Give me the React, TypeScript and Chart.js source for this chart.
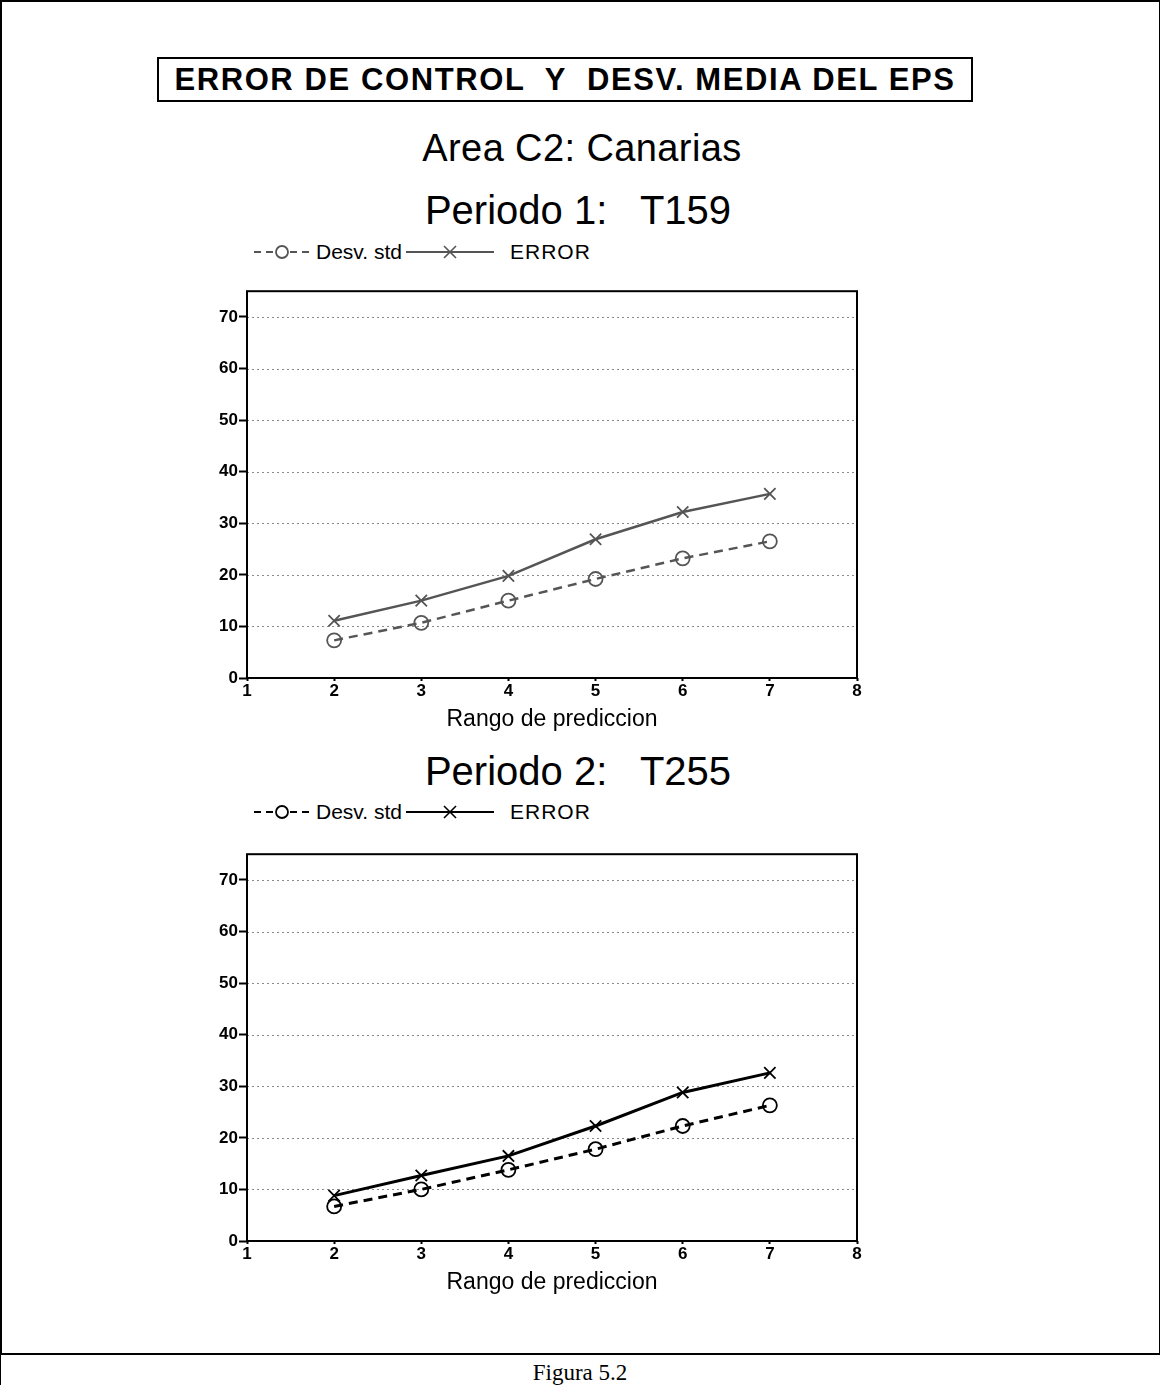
import React, { useEffect, useRef } from "react";
import { Chart, registerables } from "chart.js";

Chart.register(...registerables);

const xValues = [2, 3, 4, 5, 6, 7];
const yTickValues = [0, 10, 20, 30, 40, 50, 60, 70];

const p1DesvStd = [7.3, 10.7, 15.0, 19.2, 23.2, 26.5];
const p1Error = [11.1, 15.0, 19.8, 26.9, 32.2, 35.7];

const p2DesvStd = [6.7, 10.0, 13.8, 17.8, 22.3, 26.3];
const p2Error = [8.8, 12.7, 16.5, 22.3, 28.8, 32.6];

const mainTitle = "ERROR DE CONTROL  Y  DESV. MEDIA DEL EPS";
const areaTitle = "Area C2: Canarias";
const period1Title = "Periodo 1:   T159";
const period2Title = "Periodo 2:   T255";
const seriesNames = ["Desv. std", "ERROR"];
const xAxisTitle = "Rango de prediccion";
const caption = "Figura 5.2";

const FONT = "'Liberation Sans', Arial, sans-serif";

const framePlugin = {
  id: "framePlugin",
  beforeDatasetsDraw(chart: any) {
    const { ctx, chartArea, scales } = chart;
    const y = scales.y;
    ctx.save();
    ctx.strokeStyle = "#8a8a8a";
    ctx.lineWidth = 1;
    ctx.setLineDash([2, 3]);
    yTickValues.forEach((v) => {
      if (v === 0) return;
      const py = Math.round(y.getPixelForValue(v)) + 0.5;
      ctx.beginPath();
      ctx.moveTo(chartArea.left, py);
      ctx.lineTo(chartArea.right, py);
      ctx.stroke();
    });
    ctx.restore();
  },
  afterDatasetsDraw(chart: any) {
    const { ctx, chartArea } = chart;
    ctx.save();
    ctx.strokeStyle = "#000";
    ctx.lineWidth = 2;
    ctx.setLineDash([]);
    ctx.strokeRect(chartArea.left, chartArea.top, chartArea.right - chartArea.left, chartArea.bottom - chartArea.top);
    ctx.restore();
  },
};

function LineChart({ desv, err, color, width }: { desv: number[]; err: number[]; color: string; width: number }) {
  const ref = useRef<HTMLCanvasElement | null>(null);
  useEffect(() => {
    if (!ref.current) return;
    const chart = new Chart(ref.current, {
      type: "line",
      data: {
        datasets: [
          {
            label: seriesNames[0],
            data: xValues.map((x, i) => ({ x, y: desv[i] })),
            borderColor: color,
            borderWidth: width,
            borderDash: [9, 6],
            pointStyle: "circle",
            pointRadius: 7,
            pointBorderWidth: 1.8,
            pointBorderColor: color,
            pointBackgroundColor: "rgba(255,255,255,0)",
            fill: false,
            tension: 0,
          },
          {
            label: seriesNames[1],
            data: xValues.map((x, i) => ({ x, y: err[i] })),
            borderColor: color,
            borderWidth: width,
            pointStyle: "crossRot",
            pointRadius: 8,
            pointBorderWidth: 1.8,
            pointBorderColor: color,
            fill: false,
            tension: 0,
          },
        ],
      },
      options: {
        animation: false,
        responsive: false,
        maintainAspectRatio: false,
        layout: { padding: { top: 7, right: 10, left: 0, bottom: 0 } },
        plugins: { legend: { display: false }, tooltip: { enabled: false }, title: { display: false } },
        scales: {
          x: {
            type: "linear",
            min: 1,
            max: 8,
            ticks: { stepSize: 1, color: "#000", font: { family: FONT, size: 17, weight: "bold" }, padding: 0 },
            grid: { display: true, drawOnChartArea: false, drawTicks: true, tickLength: 3, tickColor: "#000", tickWidth: 2 },
            border: { display: false },
            title: { display: true, text: xAxisTitle, color: "#000", font: { family: FONT, size: 23 }, padding: { top: 0, bottom: 2 } },
            afterFit(scale: any) {
              scale.height = 57;
            },
          },
          y: {
            type: "linear",
            min: 0,
            max: 75,
            afterBuildTicks(scale: any) {
              scale.ticks = yTickValues.map((v) => ({ value: v }));
            },
            ticks: { color: "#000", font: { family: FONT, size: 17, weight: "bold" }, padding: 1 },
            grid: { display: true, drawOnChartArea: false, drawTicks: true, tickLength: 8, tickColor: "#000", tickWidth: 2 },
            border: { display: false },
            afterFit(scale: any) {
              scale.width = 47;
            },
          },
        },
      },
      plugins: [framePlugin],
    } as any);
    return () => chart.destroy();
  }, [desv, err, color, width]);
  return <canvas ref={ref} width={667} height={455} style={{ width: 667, height: 455, display: "block" }} />;
}

function Legend({ top, color }: { top: number; color: string }) {
  return (
    <div style={{ position: "absolute", left: 252, top, height: 26, display: "flex", alignItems: "center", fontFamily: FONT, fontSize: 21, color: "#000", whiteSpace: "pre" }}>
      <svg width={60} height={20} style={{ display: "block" }}>
        <line x1={2} y1={10} x2={58} y2={10} stroke={color} strokeWidth={2} strokeDasharray="7 5" />
        <circle cx={30} cy={10} r={6} fill="white" stroke={color} strokeWidth={1.8} />
      </svg>
      <span style={{ marginLeft: 4 }}>{seriesNames[0]}</span>
      <svg width={92} height={20} style={{ display: "block", marginLeft: 2 }}>
        <line x1={2} y1={10} x2={90} y2={10} stroke={color} strokeWidth={2} />
        <line x1={40} y1={4} x2={52} y2={16} stroke={color} strokeWidth={1.6} />
        <line x1={52} y1={4} x2={40} y2={16} stroke={color} strokeWidth={1.6} />
      </svg>
      <span style={{ marginLeft: 14, letterSpacing: 1 }}>{seriesNames[1]}</span>
    </div>
  );
}

export default function App() {
  const center = (top: number, size: number, text: string, extra: any = {}) => (
    <div style={{ position: "absolute", left: 0, width: 1160, top, textAlign: "center", fontFamily: FONT, fontSize: size, color: "#000", lineHeight: 1, whiteSpace: "pre", ...extra }}>
      {text}
    </div>
  );
  return (
    <div style={{ position: "absolute", left: 0, top: 0, width: 1160, height: 1385, background: "#fff", overflow: "hidden" }}>
      <div style={{ position: "absolute", left: 0, top: 0, width: 1157, height: 1351, borderTop: "2px solid #000", borderLeft: "2px solid #000", borderRight: "1px solid #000", borderBottom: "2px solid #000" }} />
      <div style={{ position: "absolute", left: 0, top: 1351, width: 1, height: 34, background: "#000" }} />
      <div style={{ position: "absolute", left: 157, top: 57, width: 812, height: 41, border: "2px solid #000", display: "flex", alignItems: "center", justifyContent: "center", fontFamily: FONT, fontWeight: "bold", fontSize: 31, letterSpacing: 1.6, whiteSpace: "pre" }}>
        {mainTitle}
      </div>
      {center(129, 38, areaTitle, { left: 2, letterSpacing: 0.4 })}
      {center(190, 40, period1Title, { left: -2 })}
      <Legend top={239} color="#555" />
      <div style={{ position: "absolute", left: 200, top: 280 }}>
        <LineChart desv={p1DesvStd} err={p1Error} color="#555" width={2.5} />
      </div>
      {center(751, 40, period2Title, { left: -2 })}
      <Legend top={799} color="#000" />
      <div style={{ position: "absolute", left: 200, top: 843 }}>
        <LineChart desv={p2DesvStd} err={p2Error} color="#000" width={3} />
      </div>
      {center(1361, 23, caption, { fontFamily: "'Liberation Serif', 'Times New Roman', serif" })}
    </div>
  );
}
